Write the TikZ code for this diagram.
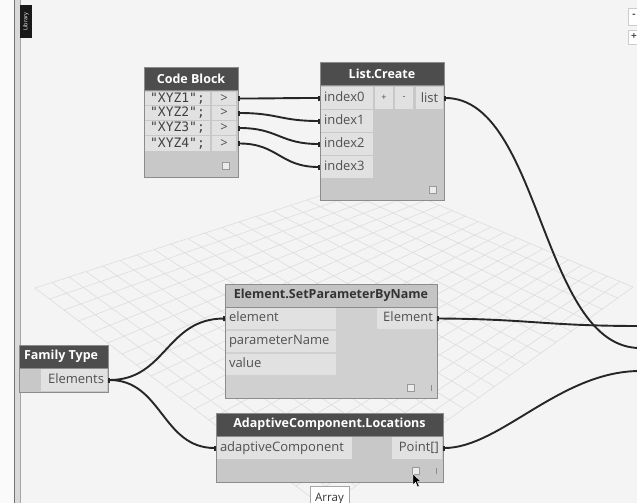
\documentclass[tikz,border=0pt]{standalone}
\usepackage{fontspec}
\setmainfont{Open Sans}
\newfontfamily\cbmono{DejaVu Sans Mono}
\usetikzlibrary{calc,arrows.meta}
\definecolor{canvas}{HTML}{F4F4F4}
\definecolor{gridc}{HTML}{DDDDDD}
\definecolor{bodyc}{HTML}{C8C8C8}
\definecolor{cellc}{HTML}{E1E1E1}
\definecolor{headdark}{HTML}{4D4D4D}
\definecolor{headlight}{HTML}{C4C4C4}
\definecolor{edgec}{HTML}{8C8C8C}
\definecolor{txt}{HTML}{505050}
\definecolor{wirec}{HTML}{262626}
\newcommand\rnode[7]{\node[#6, minimum width={((#4)-(#2))*1pt}, minimum height={((#5)-(#3))*1pt}] (#1) at ({((#2)+(#4))/2},{((#3)+(#5))/2}) {#7};}
\tikzset{
  base/.style={rectangle, inner sep=0pt, outer sep=0pt},
  nodebox/.style={base, draw=edgec, line width=0.8pt, fill=bodyc},
  hdark/.style={base, draw=edgec, line width=0.8pt, fill=headdark, text=white, font=\fontsize{12.5}{14}\selectfont\bfseries},
  hlight/.style={base, draw=edgec, line width=0.8pt, fill=headlight, text=black!80, font=\fontsize{12.5}{14}\selectfont\bfseries},
  cell/.style={base, fill=cellc, text=txt, font=\fontsize{13}{15}\selectfont},
  mono/.style={base, fill=cellc, text=black!75, font=\fontsize{13}{15}\cbmono},
  lbl/.style={base, text=txt, font=\fontsize{13}{15}\selectfont, text height=9.5pt, text depth=3pt},
  sq/.style={base, draw=black!40, line width=0.6pt, fill=black!8, minimum size=7pt},
  tick/.style={base, draw=none, fill=black!45, minimum width=1pt, minimum height=6pt},
  wire/.style={draw=wirec, line width=1.9pt},
  nub/.style={{Bar[width=5pt]}-{Bar[width=5pt]}},
  nubs/.style={{Bar[width=5pt]}-},
}
\begin{document}
\begin{tikzpicture}[x=1pt,y=-1pt]
\useasboundingbox (0,0) rectangle (637,503);
\clip (0,0) rectangle (637,503);
% canvas
\fill[canvas] (0,0) rectangle (637,503);
\fill[white!98!black] (0,0) rectangle (14,503);
% floor grid
\coordinate (GT) at (375,178);
\coordinate (GL) at (35,288);
\coordinate (GR) at (633,287);
\coordinate (GB) at (325,508);
\foreach \i in {0,...,20}{
  \draw[gridc, line width=0.6pt] ($(GT)!\i/20!(GR)$) -- ($(GL)!\i/20!(GB)$);
  \draw[gridc, line width=0.6pt] ($(GT)!\i/20!(GL)$) -- ($(GR)!\i/20!(GB)$);
}
% left panel bar
\fill[black!15] (14,0) rectangle (20,503);
\draw[black!55, line width=0.8pt] (14,0) -- (14,503);
\draw[black!35, line width=0.6pt] (20,0) -- (20,503);
\rnode{libtab}{20}{5}{32}{38}{base, fill=black!90}{}
\node[base, rotate=90, text=white, font=\fontsize{5.5}{6}\selectfont] (libtxt) at (libtab.center) {Library};
% zoom buttons (right edge)
\rnode{zoomout}{628}{8}{645}{25}{base, draw=black!20, fill=white}{}
\rnode{zoomin}{628}{30}{645}{44}{base, draw=black!20, fill=white}{}
\node[base, font=\bfseries\fontsize{10}{10}\selectfont, text=black!70] (zoomoutt) at (634,16) {-};
\node[base, font=\bfseries\fontsize{10}{10}\selectfont, text=black!70] (zoomint) at (634,37) {+};

% ---------- Code Block ----------
\rnode{cb}{144}{67}{238}{177}{nodebox}{}
\rnode{cbh}{144}{67}{238}{90}{hdark}{Code Block}
\rnode{cbt1}{145}{92}{210}{105}{mono}{"XYZ1";}
\rnode{cbt2}{145}{106}{210}{120}{mono}{"XYZ2";}
\rnode{cbt3}{145}{121}{210}{135}{mono}{"XYZ3";}
\rnode{cbt4}{145}{136}{210}{151}{mono}{"XYZ4";}
\rnode{cbo1}{212}{92}{236}{105}{cell}{>}
\rnode{cbo2}{212}{106}{236}{120}{cell}{>}
\rnode{cbo3}{212}{121}{236}{135}{cell}{>}
\rnode{cbo4}{212}{136}{236}{151}{cell}{>}
\node[sq] (cbsq) at (226,166) {};

% ---------- List.Create ----------
\rnode{lc}{320}{62}{444}{200}{nodebox}{}
\rnode{lch}{320}{62}{444}{85}{hdark}{List.Create}
\rnode{lci0}{321}{87}{373}{109}{cell}{}
\rnode{lci1}{321}{110}{373}{132}{cell}{}
\rnode{lci2}{321}{133}{373}{155}{cell}{}
\rnode{lci3}{321}{156}{373}{178}{cell}{}
\node[lbl, anchor=west] (lci0t) at ([xshift=3pt]lci0.west) {index0};
\node[lbl, anchor=west] (lci1t) at ([xshift=3pt]lci1.west) {index1};
\node[lbl, anchor=west] (lci2t) at ([xshift=3pt]lci2.west) {index2};
\node[lbl, anchor=west] (lci3t) at ([xshift=3pt]lci3.west) {index3};
\rnode{lcplus}{375}{87}{393}{109}{cell}{\fontsize{9}{9}\selectfont +}
\rnode{lcminus}{395}{87}{413}{109}{cell}{\fontsize{9}{9}\selectfont -}
\rnode{lclist}{416}{87}{443}{109}{cell}{list}
\node[sq] (lcsq) at (433,190) {};

% ---------- Element.SetParameterByName ----------
\rnode{sp}{225}{284}{437}{398}{nodebox, fill=bodyc!85!white}{}
\rnode{sph}{225}{284}{437}{307}{hlight}{Element.SetParameterByName}
\rnode{spi1}{226}{308}{336}{329}{cell}{}
\rnode{spi2}{226}{331}{336}{352}{cell}{}
\rnode{spi3}{226}{354}{336}{375}{cell}{}
\node[lbl, anchor=west] (spi1t) at ([xshift=3pt]spi1.west) {element};
\node[lbl, anchor=west] (spi2t) at ([xshift=3pt]spi2.west) {parameterName};
\node[lbl, anchor=west] (spi3t) at ([xshift=3pt]spi3.west) {value};
\rnode{spo}{377}{308}{436}{329}{cell}{}
\node[lbl, anchor=east] (spot) at ([xshift=-3pt]spo.east) {Element};
\node[sq] (spsq) at (411,388) {};
\node[tick] (sptick) at (431,388) {};

% ---------- Family Type ----------
\rnode{ft}{19}{345}{108}{392}{nodebox}{}
\rnode{fth}{19}{345}{108}{368}{hdark}{}
\node[base, anchor=west, text=white, font=\fontsize{12.5}{14}\selectfont\bfseries] (ftht) at (24,356.5) {Family Type};
\rnode{fto}{41}{369}{107}{391}{cell}{}
\node[lbl, anchor=east] (ftot) at ([xshift=-3pt]fto.east) {Elements};

% ---------- AdaptiveComponent.Locations ----------
\rnode{ac}{216}{413}{443}{482}{nodebox}{}
\rnode{ach}{216}{413}{443}{436}{hdark}{AdaptiveComponent.Locations}
\rnode{aci}{217}{437}{352}{459}{cell}{}
\node[lbl, anchor=west] (acit) at ([xshift=3pt]aci.west) {adaptiveComponent};
\rnode{aco}{392}{437}{442}{459}{cell}{}
\node[lbl, anchor=east] (acot) at ([xshift=-3pt]aco.east) {Point[]};
\node[sq] (acsq) at (416,471) {};
\node[tick] (actick) at (436,471) {};

% ---------- Array tooltip ----------
\rnode{arr}{310}{486}{349}{512}{base, draw=black!35, fill=white}{}
\node[base, font=\fontsize{11.5}{13}\selectfont, text=black!80] (arrt) at (329.5,499) {Array};

% cursor
\fill[black, draw=white, line width=0.4pt] (413,474) -- (413,485) -- (415.6,482.4) -- (417.6,487) -- (419.3,486.2) -- (417.3,481.7) -- (421,481.5) -- cycle;

% ---------- wires ----------
\coordinate (out1) at (640,348);
\coordinate (out2) at (640,326);
\coordinate (out3) at (640,371);
\draw[wire, nub] ([xshift=2pt]cbo1.east) .. controls +(40,0) and +(-40,0) .. (lc.west |- lci0.west);
\draw[wire, nub] ([xshift=2pt]cbo2.east) .. controls +(40,0) and +(-40,0) .. (lc.west |- lci1.west);
\draw[wire, nub] ([xshift=2pt]cbo3.east) .. controls +(40,0) and +(-40,0) .. (lc.west |- lci2.west);
\draw[wire, nub] ([xshift=2pt]cbo4.east) .. controls +(40,0) and +(-40,0) .. (lc.west |- lci3.west);
\draw[wire, nubs] (lc.east |- lclist.east) .. controls (541,98) and (541,348) .. (out1);
\draw[wire, nubs] (sp.east |- spo.east) .. controls (530,319) and (545,326) .. (out2);
\draw[wire, nubs] (ac.east |- aco.east) .. controls (500,448) and (560,371) .. (out3);
\draw[wire, nub] (ft.east |- fto.east) .. controls (166,380) and (166,319) .. (sp.west |- spi1.west);
\draw[wire, nub] (ft.east |- fto.east) .. controls (162,380) and (162,448) .. (ac.west |- aci.west);
\end{tikzpicture}
\end{document}
